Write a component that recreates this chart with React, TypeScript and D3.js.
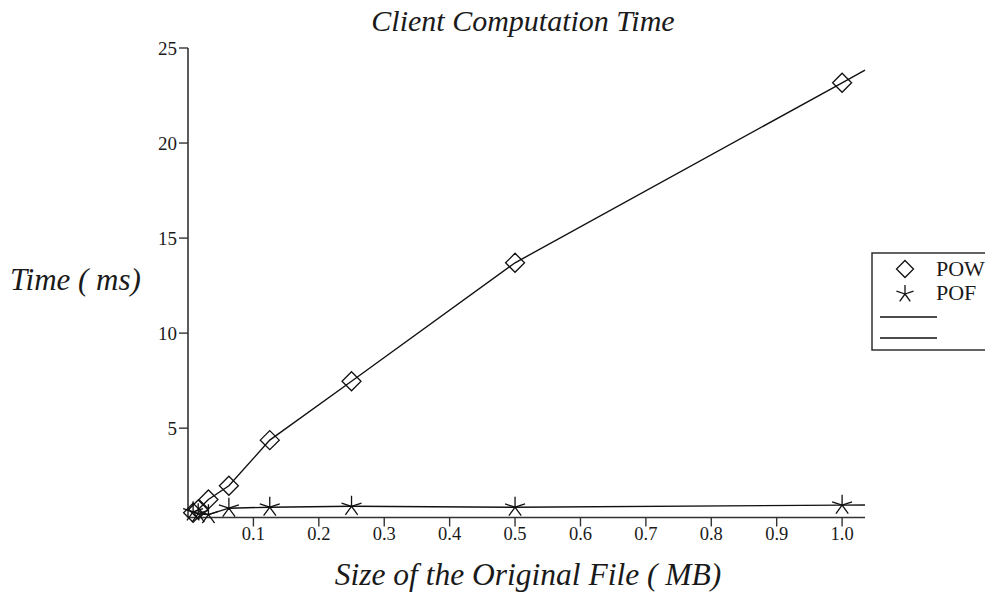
import React from 'react'
import * as d3 from 'd3'

// file sizes (MB)
const sizes = [1 / 128, 1 / 64, 1 / 32, 1 / 16, 1 / 8, 1 / 4, 1 / 2, 1]
// computation time (ms)
const powTimes = [0.55, 0.72, 1.25, 1.97, 4.37, 7.47, 13.7, 23.17]
const pofTimes = [0.6, 0.5, 0.45, 0.79, 0.84, 0.89, 0.84, 0.95]
const seriesNames = ['POW', 'POF']
const xTicks = [0.1, 0.2, 0.3, 0.4, 0.5, 0.6, 0.7, 0.8, 0.9, 1.0]
const yTicks = [5, 10, 15, 20, 25]

const W = 985
const H = 595
const serif = '"Liberation Serif", "Times New Roman", serif'

const x = d3.scaleLinear().domain([0, 1.035]).range([188, 865])
const y = d3.scaleLinear().domain([0.3, 25]).range([517.5, 48])

// line through the points, last segment carried on to the axis end
function extended(vals: number[]): [number, number][] {
  const pts: [number, number][] = sizes.map((s, i) => [s, vals[i]])
  const n = pts.length
  const slope = (pts[n - 1][1] - pts[n - 2][1]) / (pts[n - 1][0] - pts[n - 2][0])
  const xe = x.domain()[1]
  pts.push([xe, pts[n - 1][1] + slope * (xe - pts[n - 1][0])])
  return pts
}

const line = d3
  .line<[number, number]>()
  .x((d) => x(d[0]))
  .y((d) => y(d[1]))

const diamond = (cx: number, cy: number, r = 9.5) =>
  `M${cx},${cy - r}L${cx + r},${cy}L${cx},${cy + r}L${cx - r},${cy}Z`

// five armed asterisk
const star = (cx: number, cy: number, r = 10.5) => {
  let p = ''
  for (let k = 0; k < 5; k++) {
    const a = (-90 + k * 72) * (Math.PI / 180)
    p += `M${cx},${cy}L${cx + r * Math.cos(a)},${cy + r * Math.sin(a)}`
  }
  return p
}

const App = () => {
  const x0 = x.range()[0]
  const x1 = x.range()[1]
  const yb = y.range()[0]
  const yt = y.range()[1]
  return (
    <svg
      width={W}
      height={H}
      style={{ position: 'absolute', left: 0, top: 0, background: '#fff' }}
      fontFamily={serif}
      fill="#1a1a1a"
    >
      <text x={523} y={31} textAnchor="middle" fontSize={30} fontStyle="italic">
        Client Computation Time
      </text>

      {/* axes */}
      <line x1={x0} x2={x0} y1={yt} y2={yb} stroke="#333" strokeWidth={1.6} />
      <line x1={x0} x2={x1} y1={yb} y2={yb} stroke="#333" strokeWidth={1.6} />
      {yTicks.map((t) => (
        <g key={t}>
          <line x1={x0 - 9} x2={x0} y1={y(t)} y2={y(t)} stroke="#333" strokeWidth={1.4} />
          <text x={x0 - 11} y={y(t) + 6.5} textAnchor="end" fontSize={19}>
            {t}
          </text>
        </g>
      ))}
      {xTicks.map((t) => (
        <g key={t}>
          <line x1={x(t)} x2={x(t)} y1={yb} y2={yb + 9} stroke="#333" strokeWidth={1.4} />
          <text x={x(t)} y={yb + 22} textAnchor="middle" fontSize={18.5}>
            {d3.format('.1f')(t)}
          </text>
        </g>
      ))}
      <text x={528} y={585} textAnchor="middle" fontSize={31.5} fontStyle="italic" xmlSpace="preserve">
        Size of the Original File ( MB)
      </text>
      <text x={10} y={290} fontSize={31} fontStyle="italic" xmlSpace="preserve">
        Time ( ms)
      </text>

      {/* series */}
      <path d={line(extended(powTimes)) || ''} fill="none" stroke="#111" strokeWidth={1.4} />
      <path d={line(extended(pofTimes)) || ''} fill="none" stroke="#111" strokeWidth={1.4} />
      {sizes.map((s, i) => (
        <path key={'w' + i} d={diamond(x(s), y(powTimes[i]))} fill="none" stroke="#111" strokeWidth={1.3} />
      ))}
      {sizes.map((s, i) => (
        <path key={'f' + i} d={star(x(s), y(pofTimes[i]))} fill="none" stroke="#111" strokeWidth={1.3} />
      ))}

      {/* legend */}
      <rect x={872} y={253} width={130} height={97} fill="#fff" stroke="#222" strokeWidth={1.4} />
      <path d={diamond(905, 269, 8.5)} fill="none" stroke="#111" strokeWidth={1.3} />
      <path d={star(905, 294, 9)} fill="none" stroke="#111" strokeWidth={1.3} />
      {seriesNames.map((n, i) => (
        <text key={n} x={936} y={276 + i * 24} fontSize={22}>
          {n}
        </text>
      ))}
      <line x1={880} x2={937} y1={317} y2={317} stroke="#111" strokeWidth={1.4} />
      <line x1={880} x2={937} y1={338} y2={338} stroke="#111" strokeWidth={1.4} />
    </svg>
  )
}

export default App
